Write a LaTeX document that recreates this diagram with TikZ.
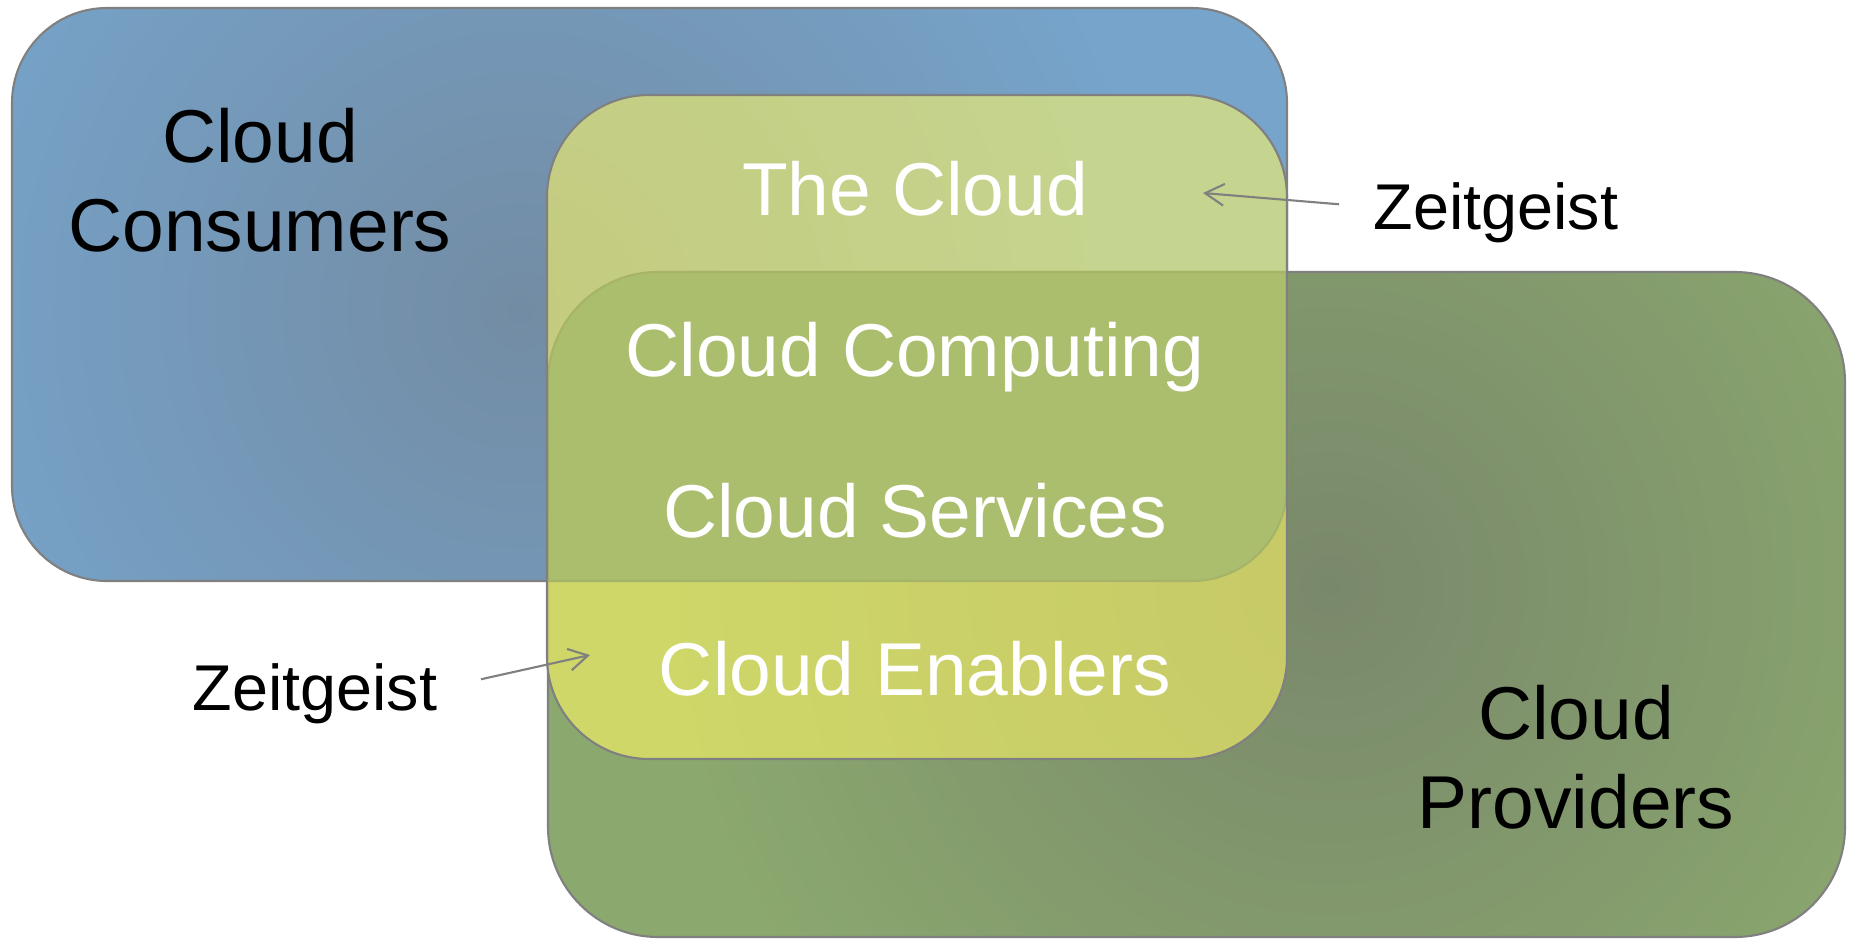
\documentclass[tikz,border=0pt]{standalone}
\usepackage{fontspec}
\setmainfont{Liberation Sans}
\usetikzlibrary{arrows.meta}

\definecolor{consumerblue}{RGB}{118,164,203}
\definecolor{consumerdark}{RGB}{115,140,164}
\definecolor{providergreen}{RGB}{139,168,110}
\definecolor{providerdark}{RGB}{121,136,107}
\definecolor{cloudyellow}{RGB}{255,249,101}
\definecolor{overlapgreen}{RGB}{170,190,110}
\definecolor{overlapedge}{RGB}{166,180,104}
\definecolor{edgegray}{RGB}{128,128,128}

\tikzset{
  frame/.style={draw=edgegray, line width=0.6pt},
  bigtext/.style={font=\fontsize{21.3}{25.2}\selectfont, inner sep=0pt, align=center},
  whitetext/.style={bigtext, text=white, anchor=base},
  sidetext/.style={font=\fontsize{18.4}{22}\selectfont, inner sep=0pt, anchor=base},
  pointer/.style={draw=edgegray, line width=0.6pt,
    -{Straight Barb[length=5.4pt,width=6.2pt,line width=0.6pt]}},
}

\begin{document}
\begin{tikzpicture}[x=0.01cm, y=-0.01cm]
\useasboundingbox (0,0) rectangle (1851,939);

% Cloud Consumers panel
\fill[consumerblue, rounded corners=0.95cm] (12,8) rectangle (1287,581);
\begin{scope}
  \clip[rounded corners=0.95cm] (12,8) rectangle (1287,581);
  \shade[inner color=consumerdark, outer color=consumerblue] (520,310) circle (6.4cm);
\end{scope}
\draw[frame, rounded corners=0.95cm] (12,8) rectangle (1287,581);

% Cloud Providers panel
\fill[providergreen, rounded corners=1.1cm] (548,272) rectangle (1845,937);
\begin{scope}
  \clip[rounded corners=1.1cm] (548,272) rectangle (1845,937);
  \shade[inner color=providerdark, outer color=providergreen] (1330,585) circle (6.6cm);
\end{scope}
\draw[frame, rounded corners=1.1cm] (548,272) rectangle (1845,937);

% translucent cloud panel on top of both
\fill[cloudyellow, fill opacity=0.58, rounded corners=1.02cm] (547,95) rectangle (1287,759);

% band where consumers and providers overlap
\begin{scope}
  \clip[rounded corners=0.95cm] (12,8) rectangle (1287,581);
  \fill[overlapgreen, rounded corners=1.1cm] (548,272) rectangle (1845,937);
  \draw[overlapedge, line width=0.6pt, rounded corners=1.1cm] (548,272) rectangle (1845,937);
\end{scope}
\begin{scope}
  \clip[rounded corners=1.1cm] (548,272) rectangle (1845,937);
  \draw[overlapedge, line width=0.6pt, rounded corners=0.95cm] (12,8) rectangle (1287,581);
\end{scope}

\draw[frame, rounded corners=1.02cm] (547,95) rectangle (1287,759);

% labels
\node[bigtext] (consumers) at (260,180) {Cloud\\Consumers};
\node[bigtext] (providers) at (1576,757) {Cloud\\Providers};

\node[whitetext] (thecloud) at (915,215) {The Cloud};
\node[whitetext] (computing) at (915,376) {Cloud Computing};
\node[whitetext] (services) at (915,537) {Cloud Services};
\node[whitetext] (enablers) at (915,695) {Cloud Enablers};

\node[sidetext] (zeitright) at (1496,229) {Zeitgeist};
\node[sidetext] (zeitleft) at (315,710) {Zeitgeist};

% pointers
\coordinate (tipright) at (1203,193);
\coordinate (tipleft) at (590,655);
\draw[pointer] ([shift={(-34,-8)}]zeitright.west) -- (tipright);
\draw[pointer] ([shift={(43,-14)}]zeitleft.east) -- (tipleft);
\end{tikzpicture}
\end{document}
